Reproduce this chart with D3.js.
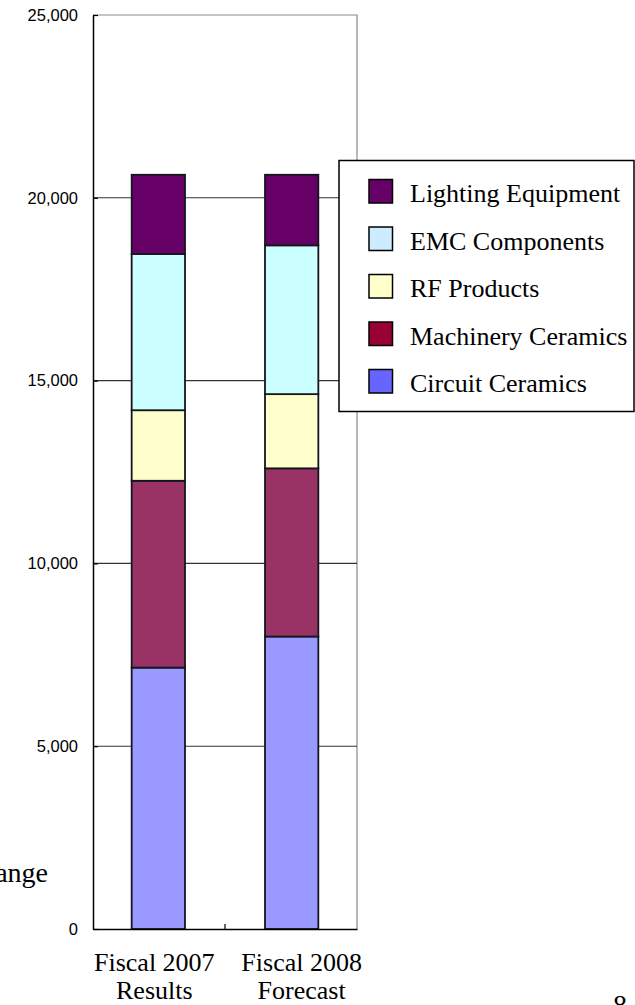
<!DOCTYPE html>
<html>
<head>
<meta charset="utf-8">
<script src="https://cdn.jsdelivr.net/npm/d3@7"></script>
<style>
  html, body { margin: 0; padding: 0; background: #fff; }
  svg { display: block; }
</style>
</head>
<body>
<svg id="chart" width="635" height="1005"></svg>
<script>
// ---- data ----
const categories = ["Fiscal 2007 Results", "Fiscal 2008 Forecast"];
const categoryLines = [["Fiscal 2007", "Results"], ["Fiscal 2008", "Forecast"]];
const seriesNames = ["Circuit Ceramics", "Machinery Ceramics", "RF Products", "EMC Components", "Lighting Equipment"];
const circuitCeramics = [7150, 8000];
const machineryCeramics = [5110, 4600];
const rfProducts = [1930, 2030];
const emcComponents = [4270, 4070];
const lightingEquipment = [2170, 1930];
const yTicks = [0, 5000, 10000, 15000, 20000, 25000];
const barColors = ["#9999FF", "#993366", "#FFFFCC", "#CCFFFF", "#660066"];
const legendColors = ["#6666FF", "#990033", "#FFFFCC", "#CCECFF", "#660066"];

const seriesValues = [circuitCeramics, machineryCeramics, rfProducts, emcComponents, lightingEquipment];
const table = categories.map((c, i) => {
  const row = { category: c };
  seriesNames.forEach((s, j) => { row[s] = seriesValues[j][i]; });
  return row;
});

const svg = d3.select("#chart");
const plotLeft = 93, plotRight = 357, plotTop = 15, plotBottom = 929;

const y = d3.scaleLinear().domain([0, 25000]).range([plotBottom, plotTop]);
const x = d3.scaleBand().domain(categories).range([plotLeft, plotRight])
  .paddingInner(0.6).paddingOuter(0.29);

const serif = "'Liberation Serif', 'Times New Roman', serif";
const sans = "'Liberation Sans', Arial, sans-serif";

// plot frame (top and right, gray)
svg.append("path")
  .attr("d", `M${plotLeft},${y(25000)}H${plotRight}V${plotBottom}`)
  .attr("fill", "none").attr("stroke", "#8a8a8a").attr("stroke-width", 1.2);

// gridlines
svg.append("g").selectAll("line").data(yTicks.filter(t => t > 0 && t < 25000)).join("line")
  .attr("x1", plotLeft).attr("x2", plotRight)
  .attr("y1", d => y(d)).attr("y2", d => y(d))
  .attr("stroke", "#333").attr("stroke-width", 1.1);

// bars
const stack = d3.stack().keys(seriesNames);
const stacked = stack(table);
svg.append("g").selectAll("g").data(stacked).join("g")
  .attr("fill", (d, i) => barColors[i])
  .selectAll("rect").data(d => d).join("rect")
  .attr("x", d => x(d.data.category))
  .attr("width", x.bandwidth())
  .attr("y", d => y(d[1]))
  .attr("height", d => y(d[0]) - y(d[1]))
  .attr("stroke", "#151520").attr("stroke-width", 1.8);

// y axis
const yAxis = svg.append("g").attr("transform", `translate(${plotLeft},0)`)
  .call(d3.axisLeft(y).tickValues(yTicks).tickFormat(d3.format(",")).tickSize(0).tickPadding(15));
yAxis.select(".domain").attr("stroke", "#000").attr("stroke-width", 1.5);
yAxis.selectAll("text").attr("font-family", sans).attr("font-size", 16.5).attr("fill", "#000");
// small inner ticks
yAxis.selectAll(".tick").append("line").attr("x1", 0).attr("x2", 5).attr("stroke", "#000").attr("stroke-width", 1.2);

// x axis
const xAxis = svg.append("g").attr("transform", `translate(0,${plotBottom})`)
  .call(d3.axisBottom(x).tickSize(0).tickFormat(""));
xAxis.select(".domain").attr("stroke", "#000").attr("stroke-width", 1.5);
// divider tick between categories (pointing up)
const mid = (x(categories[0]) + x.bandwidth() + x(categories[1])) / 2;
xAxis.append("line").attr("x1", mid).attr("x2", mid).attr("y1", 0).attr("y2", -5)
  .attr("stroke", "#000").attr("stroke-width", 1.2);

// category labels (text boxes are slightly offset from band centres in the original)
const labelShift = [-4, 10];
const labelG = svg.append("g");
categories.forEach((c, i) => {
  const cx = x(c) + x.bandwidth() / 2 + labelShift[i];
  const t = labelG.append("text")
    .attr("x", cx)
    .attr("y", 971)
    .attr("text-anchor", "middle")
    .attr("font-family", serif).attr("font-size", 26).attr("fill", "#000");
  categoryLines[i].forEach((line, k) => {
    t.append("tspan").attr("x", cx).attr("dy", k === 0 ? 0 : 28).text(line);
  });
});

// legend
const legendOrder = [4, 3, 2, 1, 0];
const lg = svg.append("g");
lg.append("rect").attr("x", 339).attr("y", 160.5).attr("width", 295).attr("height", 251)
  .attr("fill", "#fff").attr("stroke", "#000").attr("stroke-width", 1.5);
legendOrder.forEach((si, k) => {
  const yy = 179.5 + k * 47.5;
  lg.append("rect").attr("x", 369).attr("y", yy).attr("width", 23.5).attr("height", 23.5)
    .attr("fill", legendColors[si]).attr("stroke", "#000").attr("stroke-width", 1.5);
  lg.append("text").attr("x", 410).attr("y", yy + 22.5)
    .attr("font-family", serif).attr("font-size", 26).attr("fill", "#000")
    .text(seriesNames[si]);
});

// slide fragments visible in crop
svg.append("text").attr("x", 48).attr("y", 882).attr("text-anchor", "end")
  .attr("font-family", serif).attr("font-size", 28).attr("fill", "#000").text("ange");
svg.append("text").attr("x", 620).attr("y", 1014).attr("text-anchor", "middle")
  .attr("font-family", serif).attr("font-size", 28).attr("fill", "#000").text("8");
</script>
</body>
</html>
